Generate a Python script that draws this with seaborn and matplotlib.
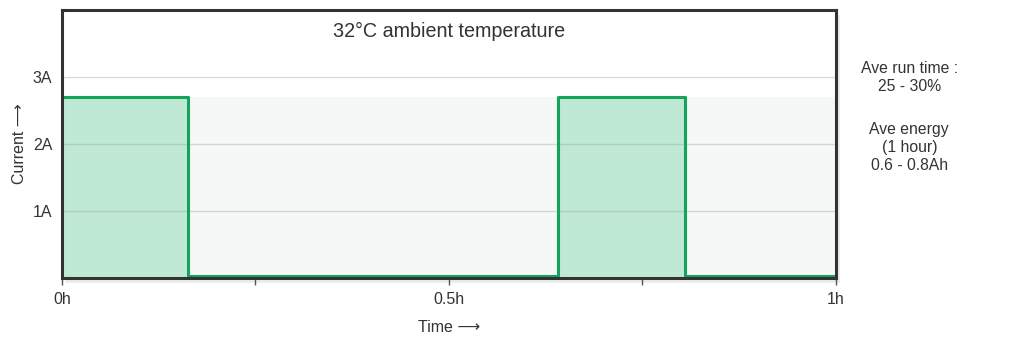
import matplotlib
matplotlib.use("Agg")
import matplotlib.pyplot as plt
import seaborn as sns
import pandas as pd
from matplotlib.patches import Rectangle

times = [0.0, 0.163, 0.641, 0.805, 1.0]
current = [2.7, 0.03, 2.7, 0.03, 0.03]
band_top = 2.7
y_ticks = [1, 2, 3]
y_tick_labels = ["1A", "2A", "3A"]
x_minor = [0.25, 0.75]
x_major = [0.0, 0.5, 1.0]
x_tick_labels = ["0h", "0.5h", "1h"]
title = "32°C ambient temperature"
side_text_1 = "Ave run time :\n25 - 30%"
side_text_2 = "Ave energy\n(1 hour)\n0.6 - 0.8Ah"

sns.set_theme(style="white")
plt.rcParams['font.family'] = ['Liberation Sans', 'DejaVu Sans']

df = pd.DataFrame({"time": times, "current": current})

fig = plt.figure(figsize=(10.24, 3.4), dpi=100)
ax = fig.add_axes([0.0605, 0.182, 0.7558, 0.789])

ax.axhspan(0, band_top, color="#f6f7f7", zorder=0, lw=0)
for yv in y_ticks:
    ax.axhline(yv, color="#8a8a8a", lw=1, alpha=0.3, zorder=1.5)

ax.fill_between(df["time"], df["current"], step="post", color="#c0e9d5", zorder=1, lw=0)
sns.lineplot(data=df, x="time", y="current", ax=ax, drawstyle="steps-post",
             color="#12a55a", lw=2.2, zorder=2)

ax.set_xlim(0, 1)
ax.set_ylim(0, 4)
ax.set_yticks(y_ticks)
ax.set_yticklabels(y_tick_labels, fontsize=11.5, color="#333333")
ax.set_xticks(x_major)
ax.set_xticklabels(x_tick_labels, fontsize=11.5, color="#333333")
ax.set_xticks(x_minor, minor=True)
ax.tick_params(axis="x", which="both", bottom=True, length=5, width=1, color="#555555",
               direction="out", pad=5)
ax.tick_params(axis="y", left=False, length=0, pad=7)

ax.set_xlabel("Time ⟶", fontsize=11.5, color="#333333", labelpad=9)
ax.set_ylabel("Current ⟶", fontsize=11.5, color="#333333")
ax.yaxis.set_label_coords(-0.045, 0.5)

for s in ax.spines.values():
    s.set_color("#333333")
    s.set_linewidth(2.2)

# shadow
shadow = Rectangle((0.0605 + 0.004, 0.182 - 0.015), 0.7558, 0.789, transform=fig.transFigure,
                   facecolor="#000000", alpha=0.07, lw=0, zorder=-1)
fig.patches.append(shadow)

ax.text(0.5, 0.955, title, transform=ax.transAxes, ha="center", va="top",
        fontsize=14.2, color="#333333")
fig.text(0.888, 0.772, side_text_1, ha="center", va="center", fontsize=11.3,
         color="#333333", linespacing=1.25)
fig.text(0.888, 0.567, side_text_2, ha="center", va="center", fontsize=11.3,
         color="#333333", linespacing=1.25)

fig.savefig("out.png", dpi=100)
